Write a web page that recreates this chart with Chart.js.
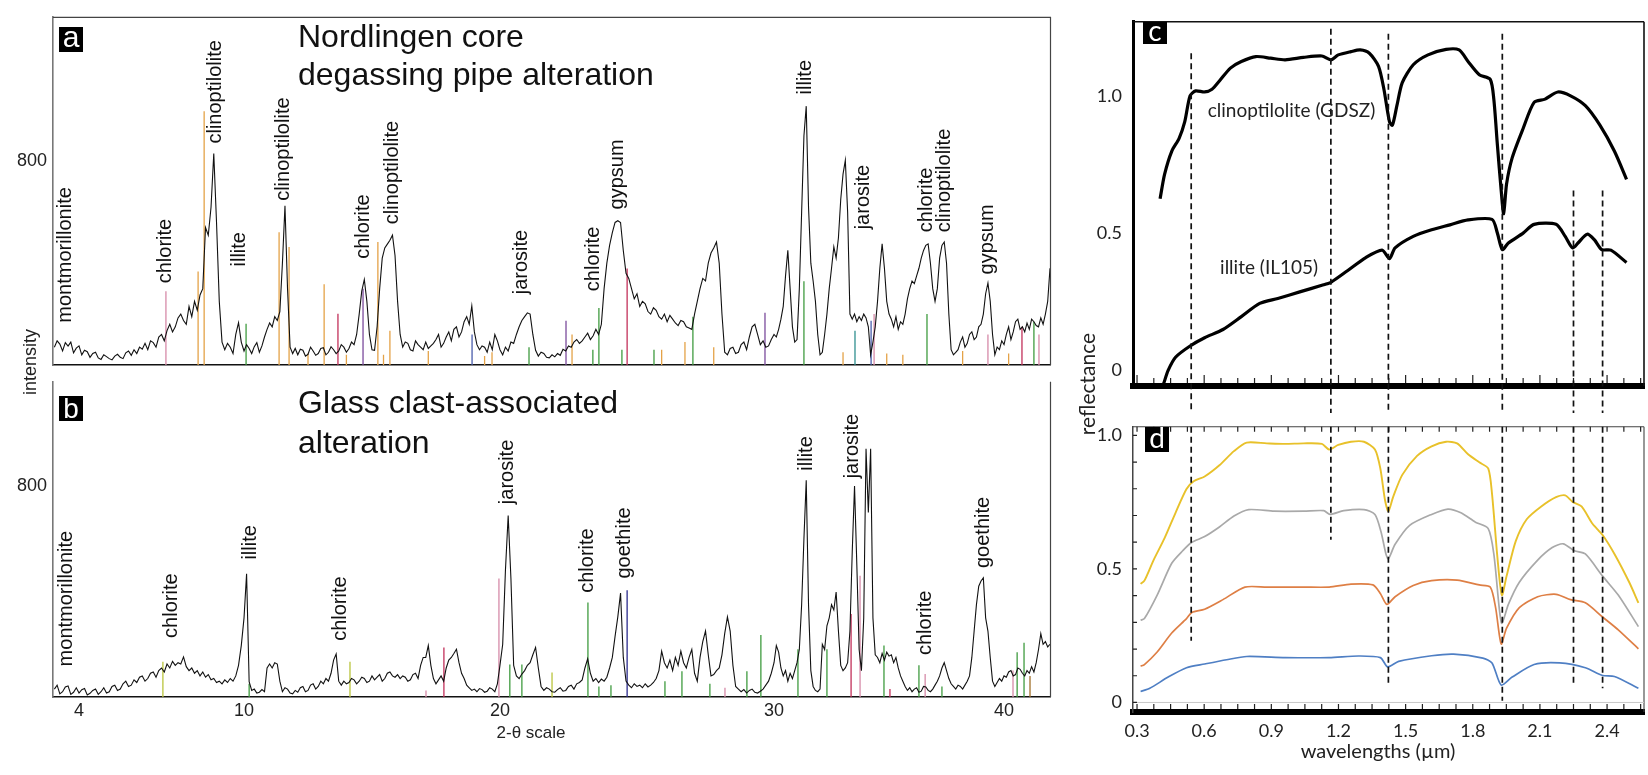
<!DOCTYPE html>
<html>
<head>
<meta charset="utf-8">
<title>XRD patterns and reflectance spectra</title>
<script src="https://cdn.jsdelivr.net/npm/chart.js@4.4.1/dist/chart.umd.min.js"></script>
<style>
  html, body { margin: 0; padding: 0; background: #fff; }
  body { position: relative; width: 1648px; height: 775px; overflow: hidden; }
  canvas { position: absolute; }
</style>
</head>
<body>
<canvas id="panelA" width="1060" height="420" style="left:0px;top:0px"></canvas>
<canvas id="panelB" width="1060" height="410" style="left:0px;top:365px"></canvas>
<canvas id="panelC" width="588" height="450" style="left:1060px;top:0px"></canvas>
<canvas id="panelD" width="588" height="370" style="left:1060px;top:405px"></canvas>
<script>
// XRD patterns (a, b) and VNIR reflectance spectra (c, d)

const SANS = "'Liberation Sans', Arial, sans-serif";
const HUMAN = "Lato, 'Open Sans', sans-serif";
Chart.defaults.font.family = SANS;
Chart.defaults.color = '#222';

// ---------- a / b : XRD counts, one sample every 0.1 deg 2-theta ----------
const THETA_START = 3.1;
const THETA_STEP = 0.1;

const countsA = [
  70, 95, 82, 55, 88, 74, 90, 48, 66, 75,
  40, 58, 52, 30, 45, 50, 28, 22, 40, 33,
  25, 20, 35, 42, 30, 25, 48, 55, 38, 60,
  45, 70, 62, 85, 60, 95, 88, 70, 110, 120,
  95, 135, 160, 130, 150, 185, 200, 175, 160, 230,
  190, 250, 215, 275, 300, 540, 510, 620, 831, 560,
  250, 90, 60, 85, 70, 45, 120, 166, 90, 55,
  80, 65, 45, 72, 88, 50, 75, 110, 140, 165,
  150, 190, 175, 210, 400, 626, 300, 70, 45, 65,
  40, 62, 58, 35, 42, 70, 55, 38, 45, 65,
  68, 40, 50, 72, 60, 45, 55, 80, 70, 50,
  65, 90, 80, 120, 200, 290, 336, 250, 120, 60,
  58, 150, 300, 420, 460, 475, 490, 510, 430, 250,
  120, 70, 90, 85, 60, 55, 95, 80, 70, 60,
  90, 65, 75, 85, 100, 120, 70, 85, 110, 130,
  95, 140, 150, 110, 130, 170, 190, 160, 232, 130,
  80, 60, 75, 70, 50, 90, 60, 120, 95, 60,
  40, 70, 55, 90, 85, 120, 150, 175, 190, 205,
  200, 120, 58, 35, 50, 45, 30, 28, 40, 32,
  45, 38, 62, 55, 75, 70, 90, 100, 85, 95,
  110, 125, 100, 115, 140, 120, 160, 300, 400, 470,
  520, 560, 567, 560, 450, 360, 340, 300, 260, 280,
  230, 250, 240, 210, 200, 225, 215, 190, 180, 200,
  170, 195, 180, 165, 155, 175, 170, 150, 145, 140,
  200, 250, 300, 340, 330, 400, 440, 460, 483, 400,
  200, 50, 40, 65, 70, 45, 50, 80, 90, 60,
  110, 150, 160, 120, 80, 95, 70, 75, 100, 120,
  110, 140, 180, 230, 350, 451, 300, 150, 90, 100,
  300, 600, 900, 1017, 620, 400, 330, 250, 120, 40,
  50, 120, 200, 300, 380, 464, 420, 500, 650, 750,
  804, 600, 200, 180, 200, 170, 190, 175, 200, 185,
  150, 40, 90, 150, 250, 380, 476, 380, 250, 200,
  180, 150, 190, 140, 170, 160, 200, 260, 300, 330,
  320, 350, 380, 420, 450, 470, 476, 400, 300, 250,
  300, 420, 470, 483, 400, 200, 60, 40, 50, 60,
  90, 110, 70, 85, 120, 130, 100, 110, 150, 160,
  200, 280, 322, 250, 120, 40, 70, 60, 95, 80,
  120, 150, 100, 130, 170, 180, 140, 150, 130, 165,
  140, 180, 170, 155, 150, 185, 160, 200, 250, 380
];

const countsB = [
  30, 45, 12, 20, 38, 42, 10, 18, 35, 15,
  28, 32, 8, 14, 25, 30, 10, 20, 35, 15,
  20, 40, 45, 25, 30, 50, 60, 40, 45, 65,
  55, 75, 80, 60, 70, 90, 95, 75, 100, 110,
  95, 125, 110, 135, 120, 130, 125, 152, 115, 100,
  110, 90, 100, 80, 95, 75, 85, 65, 70, 55,
  60, 50, 65, 55, 70, 60, 80, 120, 195, 300,
  467, 58, 25, 30, 15, 18, 28, 20, 110, 125,
  110, 130, 125, 60, 20, 35, 30, 15, 12, 25,
  18, 35, 40, 20, 25, 45, 50, 30, 40, 60,
  50, 70, 60, 90, 140, 163, 60, 45, 60, 50,
  55, 70, 65, 50, 60, 75, 70, 55, 60, 80,
  65, 75, 85, 60, 70, 90, 95, 80, 75, 85,
  70, 80, 75, 60, 65, 85, 90, 70, 120, 150,
  150, 195, 120, 70, 50, 65, 80, 60, 110, 140,
  150, 165, 181, 130, 90, 70, 45, 35, 25, 30,
  20, 32, 28, 18, 22, 35, 30, 20, 50, 120,
  200, 480, 688, 450, 120, 80, 70, 87, 100, 120,
  130, 160, 188, 110, 40, 25, 35, 30, 20, 18,
  28, 35, 22, 25, 40, 45, 30, 50, 55, 65,
  110, 145, 90, 60, 70, 55, 68, 60, 75, 110,
  150, 230, 304, 394, 150, 60, 45, 35, 50, 40,
  45, 35, 50, 38, 45, 55, 70, 100, 174, 130,
  110, 140, 100, 150, 120, 174, 130, 110, 150, 180,
  90, 60, 150, 210, 250, 160, 80, 85, 100, 110,
  160, 240, 304, 250, 120, 40, 30, 20, 28, 15,
  25, 30, 18, 15, 22, 30, 45, 60, 90, 130,
  195, 170, 110, 80, 100, 60, 90, 70, 100, 130,
  180, 350, 600, 822, 350, 100, 40, 25, 20, 30,
  200, 180, 270, 300, 350, 330, 398, 250, 120, 100,
  110, 130, 250, 550, 800, 500, 180, 100, 300, 941,
  700, 941, 300, 160, 150, 130, 165, 140, 170, 155,
  160, 130, 150, 110, 80, 60, 40, 25, 35, 20,
  30, 35, 18, 22, 40, 38, 25, 20, 30, 45,
  60, 80, 110, 130, 100, 70, 50, 40, 30, 45,
  40, 30, 45, 60, 80, 150, 250, 350, 420, 440,
  452, 300, 250, 150, 60, 40, 55, 70, 60, 80,
  75, 95, 100, 80, 85, 110, 105, 90, 80, 100,
  90, 115, 95, 130, 180, 240, 200, 210, 190, 200
];

const thetaTicks = [4, 10, 20, 30, 40];
const countTicks = [800];

// mineral labels: name, 2-theta, count level where the text starts
const mineralsA = ['montmorillonite', 'chlorite', 'clinoptilolite', 'illite', 'clinoptilolite',
  'chlorite', 'clinoptilolite', 'jarosite', 'chlorite', 'gypsum', 'illite', 'jarosite',
  'chlorite', 'clinoptilolite', 'gypsum'];
const mineralThetaA = [3.5, 7.13, 8.98, 9.82, 11.56, 14.65, 15.82, 20.8, 23.43, 24.27, 31.35, 33.87, 36.61, 37.43, 39.3];
const mineralLevelA = [166, 321, 870, 387, 645, 417, 553, 278, 290, 611, 1063, 533, 522, 522, 356];

const mineralsB = ['montmorillonite', 'chlorite', 'illite', 'chlorite', 'jarosite', 'chlorite',
  'goethite', 'illite', 'jarosite', 'chlorite', 'goethite'];
const mineralThetaB = [3.56, 7.38, 10.27, 13.75, 20.26, 23.21, 24.53, 31.4, 33.43, 36.6, 39.12];
const mineralLevelB = [116, 224, 521, 213, 731, 395, 449, 858, 829, 159, 489];

// reference-pattern sticks [2-theta, counts], one list per colour
const sticksAOrange = [[8.33, 367], [8.55, 997], [11.37, 522], [11.76, 464], [12.5, 45], [13.13, 317],
  [14.0, 40], [15.23, 483], [15.45, 40], [15.7, 135], [17.2, 55], [19.4, 35], [19.69, 50],
  [22.63, 120], [25.9, 60], [26.75, 90], [27.8, 70], [33.0, 50], [34.9, 45], [35.6, 40],
  [38.2, 55], [40.2, 45]];
const sticksAGreen = [[10.08, 162], [21.06, 70], [23.39, 60], [23.61, 224], [24.45, 60], [25.62, 60],
  [27.04, 190], [31.3, 329], [36.65, 200], [41.3, 170]];
const sticksACrimson = [[13.67, 201], [24.64, 379], [40.78, 150]];
const sticksAPurple = [[14.65, 300], [22.41, 174], [29.67, 205]];
const sticksAPink = [[7.16, 290], [34.35, 200], [39.3, 120], [41.52, 120]];
const sticksABlue = [[18.91, 120], [34.22, 174]];
const sticksATeal = [[33.52, 135]];

const sticksBLime = [[7.05, 134], [14.14, 134], [21.9, 93]];
const sticksBGreen = [[10.2, 50], [20.36, 123], [20.8, 123], [23.21, 358], [23.61, 40], [24.05, 45],
  [26.02, 60], [26.64, 98], [27.66, 50], [29.01, 98], [29.52, 235], [31.04, 181], [32.3, 181],
  [34.78, 195], [36.3, 120], [37.3, 40], [40.57, 170], [40.87, 206]];
const sticksBPink = [[17.11, 25], [19.96, 449], [28.21, 35], [33.74, 460], [36.57, 87], [40.39, 100]];
const sticksBCrimson = [[17.81, 188], [33.35, 315], [35.04, 30]];
const sticksBNavy = [[24.64, 405]];
const sticksBBrown = [[41.13, 80]];

// ---------- c / d : reflectance [wavelength um, reflectance] ----------
const clinoptiloliteGDSZ = [[0.403, 0.625], [0.423, 0.714], [0.455, 0.798], [0.488, 0.845], [0.513, 0.905],
  [0.537, 1.0], [0.562, 1.018], [0.602, 1.014], [0.635, 1.024], [0.668, 1.054], [0.717, 1.101],
  [0.766, 1.125], [0.831, 1.143], [0.897, 1.137], [0.962, 1.131], [1.044, 1.14], [1.126, 1.145],
  [1.166, 1.131], [1.199, 1.149], [1.256, 1.161], [1.297, 1.167], [1.338, 1.155], [1.379, 1.107],
  [1.403, 1.024], [1.428, 0.905], [1.441, 0.893], [1.461, 0.964], [1.485, 1.048], [1.534, 1.113],
  [1.6, 1.149], [1.681, 1.169], [1.739, 1.167], [1.779, 1.125], [1.829, 1.077], [1.878, 1.06],
  [1.894, 0.988], [1.91, 0.821], [1.927, 0.655], [1.938, 0.571], [1.951, 0.679], [1.976, 0.774],
  [2.025, 0.881], [2.074, 0.976], [2.123, 0.988], [2.18, 1.014], [2.237, 1.0], [2.303, 0.964],
  [2.368, 0.893], [2.433, 0.798], [2.487, 0.696]];
const illiteIL105 = [[0.419, -0.048], [0.439, 0.0], [0.472, 0.048], [0.537, 0.089], [0.602, 0.119],
  [0.684, 0.149], [0.766, 0.196], [0.848, 0.244], [0.929, 0.262], [1.027, 0.286], [1.126, 0.31],
  [1.166, 0.321], [1.24, 0.363], [1.322, 0.411], [1.395, 0.438], [1.428, 0.407], [1.453, 0.446],
  [1.534, 0.488], [1.616, 0.512], [1.698, 0.53], [1.779, 0.548], [1.886, 0.55], [1.91, 0.5],
  [1.932, 0.44], [1.959, 0.464], [2.025, 0.5], [2.074, 0.532], [2.172, 0.532], [2.213, 0.488],
  [2.246, 0.446], [2.27, 0.464], [2.311, 0.496], [2.343, 0.476], [2.376, 0.44], [2.417, 0.438],
  [2.487, 0.393]];

const sampleYellow = [[0.316, 0.444], [0.333, 0.456], [0.374, 0.533], [0.423, 0.615], [0.472, 0.71],
  [0.521, 0.799], [0.553, 0.828], [0.602, 0.846], [0.668, 0.888], [0.733, 0.941], [0.79, 0.973],
  [0.88, 0.97], [0.962, 0.968], [1.044, 0.97], [1.126, 0.968], [1.158, 0.947], [1.199, 0.964],
  [1.256, 0.976], [1.314, 0.976], [1.363, 0.947], [1.387, 0.876], [1.408, 0.757], [1.423, 0.716],
  [1.444, 0.769], [1.485, 0.852], [1.551, 0.923], [1.616, 0.959], [1.681, 0.976], [1.73, 0.97],
  [1.779, 0.929], [1.829, 0.899], [1.869, 0.876], [1.886, 0.781], [1.91, 0.544], [1.93, 0.402],
  [1.951, 0.473], [1.992, 0.604], [2.041, 0.686], [2.106, 0.734], [2.172, 0.769], [2.213, 0.775],
  [2.246, 0.751], [2.286, 0.734], [2.335, 0.669], [2.38, 0.627], [2.433, 0.556], [2.499, 0.45],
  [2.54, 0.373]];
const sampleGrey = [[0.316, 0.308], [0.333, 0.314], [0.39, 0.402], [0.455, 0.521], [0.504, 0.568],
  [0.542, 0.598], [0.602, 0.621], [0.668, 0.657], [0.733, 0.698], [0.799, 0.722], [0.913, 0.716],
  [1.044, 0.716], [1.134, 0.718], [1.162, 0.704], [1.224, 0.718], [1.314, 0.722], [1.363, 0.704],
  [1.39, 0.639], [1.412, 0.556], [1.423, 0.538], [1.453, 0.592], [1.518, 0.663], [1.616, 0.704],
  [1.689, 0.724], [1.747, 0.71], [1.812, 0.675], [1.869, 0.651], [1.894, 0.556], [1.918, 0.355],
  [1.93, 0.296], [1.959, 0.367], [2.008, 0.45], [2.09, 0.533], [2.155, 0.58], [2.204, 0.594],
  [2.254, 0.568], [2.303, 0.556], [2.38, 0.473], [2.45, 0.402], [2.54, 0.284]];
const sampleOrange = [[0.316, 0.136], [0.333, 0.142], [0.39, 0.189], [0.455, 0.26], [0.521, 0.314],
  [0.545, 0.337], [0.602, 0.349], [0.684, 0.385], [0.782, 0.432], [0.88, 0.432], [1.044, 0.432],
  [1.158, 0.432], [1.256, 0.443], [1.354, 0.44], [1.387, 0.408], [1.416, 0.367], [1.453, 0.396],
  [1.534, 0.438], [1.616, 0.456], [1.73, 0.458], [1.829, 0.44], [1.878, 0.432], [1.902, 0.355],
  [1.927, 0.219], [1.951, 0.278], [2.008, 0.355], [2.09, 0.396], [2.172, 0.405], [2.237, 0.385],
  [2.303, 0.373], [2.38, 0.32], [2.45, 0.272], [2.54, 0.201]];
const sampleBlue = [[0.316, 0.041], [0.357, 0.053], [0.439, 0.095], [0.521, 0.13], [0.602, 0.144],
  [0.7, 0.16], [0.79, 0.172], [0.962, 0.168], [1.158, 0.168], [1.289, 0.174], [1.387, 0.168],
  [1.42, 0.133], [1.469, 0.154], [1.616, 0.175], [1.714, 0.181], [1.845, 0.166], [1.886, 0.148],
  [1.927, 0.065], [1.976, 0.095], [2.074, 0.142], [2.188, 0.148], [2.303, 0.13], [2.38, 0.101],
  [2.433, 0.097], [2.54, 0.053]];

const waveTicks = [0.3, 0.6, 0.9, 1.2, 1.5, 1.8, 2.1, 2.4];
const reflTicks = [0, 0.5, 1.0];

// dashed band guides: centre, top level in c, bottom level in d
const bandCentres = [0.542, 1.166, 1.423, 1.932, 2.25, 2.38];
const bandTopC = [1.155, 1.244, 1.226, 1.226, 0.655, 0.655];
const bandBottomD = [0.231, 0.609, 0.071, 0.006, 0.059, 0.053];

const specLabelsC = ['clinoptilolite (GDSZ)', 'illite (IL105)'];
const specLabelWaveC = [0.99, 0.89];
const specLabelLevelC = [0.946, 0.375];

// ---------- styles ----------
const STICK_COLOURS = {
  orange: '#e4a247', green: '#3f9b3f', crimson: '#c2305a', purple: '#7b4b9c', pink: '#d68aa8',
  blue: '#4a5cab', teal: '#2f8f8f', lime: '#b9c43c', navy: '#2b2b8c', brown: '#a0702a'
};

// The printed 2-theta axis is not evenly spaced, so the scale maps values
// through the tick knots (value -> fraction of plot width).
const WARP_KNOTS = [3.05, 4, 10, 20, 30, 40, 42];
const WARP_DEC = [0, 0.0261, 0.1916, 0.4483, 0.7232, 0.9539, 1];

function interp(v, from, to) {
  let i = 1;
  while (i < from.length - 1 && v > from[i]) i++;
  return to[i - 1] + (v - from[i - 1]) * (to[i] - to[i - 1]) / (from[i] - from[i - 1]);
}

class WarpScale extends Chart.LinearScale {
  getPixelForValue(value) {
    if (value === null || value === undefined || isNaN(value)) return NaN;
    return this.getPixelForDecimal(interp(value, WARP_KNOTS, WARP_DEC));
  }
  getValueForPixel(pixel) {
    return interp(this.getDecimalForPixel(pixel), WARP_DEC, WARP_KNOTS);
  }
}
WarpScale.id = 'warp';
WarpScale.defaults = Chart.LinearScale.defaults;
Chart.register(WarpScale);

function toPoints(values) {
  return values.map((v, i) => ({ x: +(THETA_START + i * THETA_STEP).toFixed(2), y: v }));
}

function stickData(pairs) {
  const out = [];
  pairs.forEach(([t, h]) => { out.push({ x: t, y: 0 }, { x: t, y: h }, { x: t, y: null }); });
  return out;
}

function pairPoints(pairs) {
  return pairs.map(([w, r]) => ({ x: w, y: r }));
}

function letterBox(ctx, letter, x, y, w, h, font, base) {
  ctx.fillStyle = '#000';
  ctx.fillRect(x, y, w, h);
  ctx.fillStyle = '#fff';
  ctx.font = font;
  ctx.textAlign = 'center';
  ctx.textBaseline = 'alphabetic';
  ctx.fillText(letter, x + w / 2, y + base);
}

function xrdDecor(cfg) {
  return {
    id: 'xrdDecor',
    afterDatasetsDraw(chart) {
      const { ctx, chartArea: ca, scales: { x, y } } = chart;
      ctx.save();
      ctx.strokeStyle = '#444';
      ctx.lineWidth = 1.2;
      ctx.beginPath();
      if (cfg.top) { ctx.moveTo(ca.left, ca.top + 0.5); ctx.lineTo(ca.right, ca.top + 0.5); }
      ctx.moveTo(ca.right + 0.5, ca.top); ctx.lineTo(ca.right + 0.5, ca.bottom);
      ctx.stroke();

      // mineral names, written upward from their anchor
      ctx.fillStyle = '#111';
      ctx.font = '20px ' + SANS;
      ctx.textAlign = 'left';
      ctx.textBaseline = 'middle';
      cfg.names.forEach((name, i) => {
        ctx.save();
        ctx.translate(x.getPixelForValue(cfg.theta[i]), y.getPixelForValue(cfg.level[i]));
        ctx.rotate(-Math.PI / 2);
        ctx.fillText(name, 0, 0);
        ctx.restore();
      });

      ctx.font = '32px ' + SANS;
      ctx.textBaseline = 'alphabetic';
      cfg.title.forEach((line, i) => ctx.fillText(line, 298, cfg.titleY + i * cfg.titleStep));

      letterBox(ctx, cfg.letter, 59, cfg.boxY, 24, 25, cfg.letterFont, cfg.letterBase);
      if (cfg.extra) cfg.extra(ctx);
      ctx.restore();
    }
  };
}

function xrdChart(id, counts, stickGroups, cfg) {
  const datasets = [{
    data: toPoints(counts), borderColor: '#111', borderWidth: 1.1,
    pointRadius: 0, tension: 0, order: 1
  }];
  stickGroups.forEach(([pairs, colour]) => datasets.push({
    data: stickData(pairs), borderColor: STICK_COLOURS[colour], borderWidth: 1.3,
    pointRadius: 0, spanGaps: false, order: 2
  }));
  return new Chart(document.getElementById(id), {
    type: 'line',
    data: { datasets },
    options: {
      responsive: false, animation: false, devicePixelRatio: 1, events: [],
      layout: { padding: { top: cfg.padTop, right: 10, left: 0, bottom: 0 } },
      plugins: { legend: { display: false }, tooltip: { enabled: false } },
      scales: {
        x: {
          type: 'warp', min: 3.05, max: 42,
          afterBuildTicks: s => { s.ticks = thetaTicks.map(v => ({ value: v })); },
          afterFit: s => { s.height = cfg.xHeight; },
          grid: { display: false, drawTicks: false },
          border: { display: true, color: '#111', width: 1.4 },
          ticks: { display: cfg.showX, autoSkip: false, maxRotation: 0, padding: 3,
                   font: { size: 18 }, color: '#222' }
        },
        y: {
          type: 'linear', min: 0, max: cfg.yMax,
          afterBuildTicks: s => { s.ticks = countTicks.map(v => ({ value: v })); },
          afterFit: s => { s.width = 53; },
          grid: { display: false, drawTicks: false },
          border: { display: true, color: '#777', width: 1.6 },
          ticks: { padding: 6, font: { size: 18 }, color: '#222' }
        }
      }
    },
    plugins: [xrdDecor(cfg)]
  });
}

xrdChart('panelA', countsA, [
  [sticksAOrange, 'orange'], [sticksAGreen, 'green'], [sticksACrimson, 'crimson'],
  [sticksAPurple, 'purple'], [sticksAPink, 'pink'], [sticksABlue, 'blue'], [sticksATeal, 'teal']
], {
  padTop: 11, xHeight: 55, yMax: 1368, showX: false, top: true,
  names: mineralsA, theta: mineralThetaA, level: mineralLevelA,
  title: ['Nordlingen core', 'degassing pipe alteration'], titleY: 47, titleStep: 38,
  letter: 'a', boxY: 27, letterFont: '30px ' + SANS, letterBase: 20,
  extra: ctx => {
    ctx.save();
    ctx.fillStyle = '#222';
    ctx.font = '18px ' + SANS;
    ctx.textAlign = 'center';
    ctx.textBaseline = 'middle';
    ctx.translate(31, 362);
    ctx.rotate(-Math.PI / 2);
    ctx.fillText('intensity', 0, 0);
    ctx.restore();
  }
});

xrdChart('panelB', countsB, [
  [sticksBLime, 'lime'], [sticksBGreen, 'green'], [sticksBPink, 'pink'],
  [sticksBCrimson, 'crimson'], [sticksBNavy, 'navy'], [sticksBBrown, 'brown']
], {
  padTop: 2, xHeight: 78, yMax: 1195, showX: true, top: false,
  names: mineralsB, theta: mineralThetaB, level: mineralLevelB,
  title: ['Glass clast-associated', 'alteration'], titleY: 48, titleStep: 40,
  letter: 'b', boxY: 31, letterFont: '28px ' + SANS, letterBase: 22,
  extra: ctx => {
    ctx.fillStyle = '#222';
    ctx.font = '17px ' + SANS;
    ctx.textAlign = 'center';
    ctx.textBaseline = 'middle';
    ctx.fillText('2-\u03b8 scale', 531, 368);
  }
});

function specDecor(cfg) {
  return {
    id: 'specDecor',
    afterDatasetsDraw(chart) {
      const { ctx, chartArea: ca, scales: { x, y } } = chart;
      ctx.save();
      ctx.strokeStyle = cfg.frameColour;
      ctx.lineWidth = cfg.frameWidth;
      ctx.beginPath();
      ctx.moveTo(ca.left, ca.top); ctx.lineTo(ca.right, ca.top);
      ctx.moveTo(ca.right, ca.top); ctx.lineTo(ca.right, ca.bottom);
      ctx.stroke();

      if (cfg.zeroLine) {
        ctx.strokeStyle = '#c8c8c8';
        ctx.lineWidth = 1;
        ctx.beginPath();
        ctx.moveTo(ca.left, y.getPixelForValue(0)); ctx.lineTo(ca.right, y.getPixelForValue(0));
        ctx.stroke();
      }

      // small ticks pointing into the plot
      ctx.strokeStyle = '#222';
      ctx.lineWidth = 1.2;
      ctx.beginPath();
      for (let k = 0; k <= 30; k++) {
        const px = x.getPixelForValue(0.3 + k * 0.075);
        const len = k % 4 === 0 ? cfg.majorTick : cfg.minorTick;
        ctx.moveTo(px, ca.bottom - 3); ctx.lineTo(px, ca.bottom - 3 - len);
        if (cfg.topTicks) { ctx.moveTo(px, ca.top); ctx.lineTo(px, ca.top + 5); }
      }
      if (cfg.leftTicks) {
        for (let k = 0; k <= 10; k++) {
          const py = y.getPixelForValue(k / 10);
          ctx.moveTo(ca.left, py); ctx.lineTo(ca.left + 4, py);
        }
      }
      ctx.stroke();

      // dashed absorption-band guides
      ctx.setLineDash([6, 4]);
      ctx.strokeStyle = '#111';
      ctx.lineWidth = 1.7;
      bandCentres.forEach((w, i) => {
        const px = x.getPixelForValue(w);
        ctx.beginPath();
        if (cfg.panel === 'c') {
          ctx.moveTo(px, y.getPixelForValue(bandTopC[i]));
          ctx.lineTo(px, cfg.dashEnd);
        } else {
          ctx.moveTo(px, ca.top);
          ctx.lineTo(px, y.getPixelForValue(bandBottomD[i]));
        }
        ctx.stroke();
      });
      ctx.setLineDash([]);

      ctx.fillStyle = '#222';
      ctx.textBaseline = 'middle';
      if (cfg.panel === 'c') {
        ctx.font = '19px ' + HUMAN;
        ctx.textAlign = 'center';
        specLabelsC.forEach((t, i) => {
          ctx.fillText(t, x.getPixelForValue(specLabelWaveC[i]), y.getPixelForValue(specLabelLevelC[i]));
        });
        ctx.save();
        ctx.font = '21px ' + HUMAN;
        ctx.translate(28, 384);
        ctx.rotate(-Math.PI / 2);
        ctx.fillText('reflectance', 0, 0);
        ctx.restore();
      } else {
        ctx.font = '20px ' + HUMAN;
        ctx.textAlign = 'center';
        ctx.fillText('wavelengths (\u00b5m)', 318, 347);
      }
      letterBox(ctx, cfg.panel, cfg.boxX, cfg.boxY, 24, cfg.boxH, '28px ' + HUMAN, cfg.letterBase);
      ctx.restore();
    }
  };
}

function specChart(id, series, cfg) {
  return new Chart(document.getElementById(id), {
    type: 'line',
    data: {
      datasets: series.map(([pairs, colour, width]) => ({
        data: pairPoints(pairs), borderColor: colour, borderWidth: width,
        pointRadius: 0, tension: 0.25
      }))
    },
    options: {
      responsive: false, animation: false, devicePixelRatio: 1, events: [],
      layout: { padding: { top: cfg.padTop, right: 4, left: 0, bottom: 0 } },
      plugins: { legend: { display: false }, tooltip: { enabled: false } },
      scales: {
        x: {
          type: 'linear', min: 0.282, max: 2.565,
          afterBuildTicks: s => { s.ticks = waveTicks.map(v => ({ value: v })); },
          afterFit: s => { s.height = cfg.xHeight; },
          grid: { display: false, drawTicks: false },
          border: { display: true, color: '#000', width: 6 },
          ticks: { display: cfg.panel === 'd', autoSkip: false, maxRotation: 0, padding: 8,
                   callback: v => v.toFixed(1), font: { family: HUMAN, size: 18 }, color: '#222' }
        },
        y: {
          type: 'linear', min: cfg.yMin, max: cfg.yMax,
          afterBuildTicks: s => { s.ticks = reflTicks.map(v => ({ value: v })); },
          afterFit: s => { s.width = 73; },
          grid: { display: false, drawTicks: false },
          border: { display: true, color: cfg.leftColour, width: cfg.leftWidth },
          ticks: { padding: 11, callback: v => (v === 0 ? '0' : v.toFixed(1)),
                   font: { family: HUMAN, size: 18 }, color: '#222' }
        }
      }
    },
    plugins: [specDecor(cfg)]
  });
}

specChart('panelC', [
  [clinoptiloliteGDSZ, '#000', 3.2],
  [illiteIL105, '#000', 3.2]
], {
  panel: 'c', padTop: 12, xHeight: 64, yMin: -0.0567, yMax: 1.2695,
  leftColour: '#000', leftWidth: 3, frameColour: '#111', frameWidth: 1.6,
  majorTick: 8, minorTick: 5, topTicks: false, leftTicks: false, zeroLine: false,
  dashEnd: 413, boxX: 83, boxY: 22, boxH: 22, letterBase: 19
});

specChart('panelD', [
  [sampleYellow, '#e8c12a', 1.9],
  [sampleGrey, '#a9a9a9', 1.7],
  [sampleOrange, '#de7f45', 1.7],
  [sampleBlue, '#4f7fc4', 1.7]
], {
  panel: 'd', padTop: 8, xHeight: 63, yMin: -0.0357, yMax: 1.032,
  leftColour: '#444', leftWidth: 1.5, frameColour: '#444', frameWidth: 1.1,
  majorTick: 5, minorTick: 5, topTicks: true, leftTicks: true, zeroLine: true,
  boxX: 85, boxY: 22, boxH: 25, letterBase: 21
});
</script>
</body>
</html>
